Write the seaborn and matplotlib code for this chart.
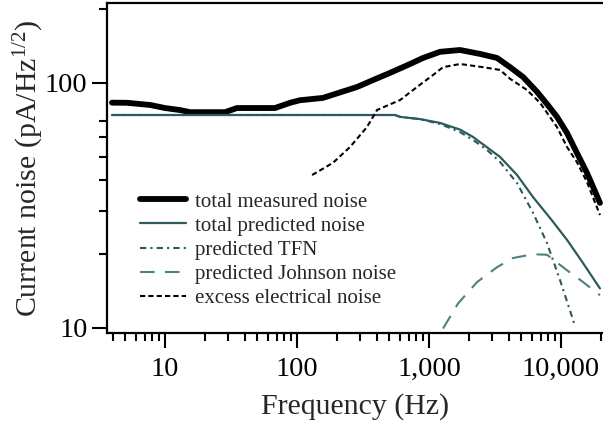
import matplotlib
matplotlib.use("Agg")
import matplotlib.pyplot as plt
import matplotlib.ticker as mticker
import seaborn as sns

# values (Hz, pA/Hz^1/2)
freq_meas = [3.96, 5.15, 7.7, 10, 13, 15.5, 28.5, 35, 68, 88.6, 105, 157, 285, 377, 507,
             681, 901, 1211, 1718, 2433, 3273, 4110, 5155, 6580, 7834, 9330, 11100,
             13200, 15740, 19730]
meas = [83.1, 83, 81.3, 79, 77.5, 76, 76, 79, 79, 83, 85, 86.9, 96.3, 102.8, 110,
        118, 126.5, 134, 136.3, 131.4, 126.5, 116, 105.8, 92, 82, 72.7, 62.5,
        51.8, 42.9, 32.4]

freq_pred = [3.96, 100, 552, 604, 855, 1211, 1718, 2154, 3451, 4645, 6140, 8260,
             11100, 14690, 19730]
pred = [74, 74, 74, 72.7, 71.2, 68.7, 64.5, 60.2, 49.9, 42.1, 34.2, 28.1,
        22.9, 18.4, 14.5]

freq_tfn = [3.96, 100, 552, 604, 855, 1211, 1718, 2154, 2748, 3451, 4645, 6140,
            7834, 9820, 12330, 12780]
tfn = [74, 74, 74, 72.7, 71.2, 68, 63, 58.5, 53.3, 47.6, 39, 29.5,
       22.2, 15.7, 10.8, 10.1]

freq_john = [1277, 1660, 2312, 3273, 4326, 6140, 7834, 11100, 14690, 19730]
john = [9.95, 12.6, 15.4, 17.7, 19.3, 20.0, 19.9, 17.2, 15.4, 13.6]

freq_exc = [130, 187, 252, 338, 404, 604, 811, 1073, 1277, 1718, 2566, 3451, 4110,
            5520, 6935, 9330, 11100, 13200, 15740, 19730]
exc = [42.1, 47.2, 54.8, 66, 77.6, 85.2, 96.3, 107.8, 116, 119.5, 116, 113, 104,
       93.6, 83, 66, 54.8, 47.5, 39.4, 28.9]

x_major = [10, 100, 1000, 10000]
y_major = [10, 100]
y_minor = [20, 30, 40, 50, 60, 70, 200]

sns.set_style("ticks")
plt.rcParams["font.family"] = ["Liberation Serif", "DejaVu Serif"]
plt.rcParams["mathtext.fontset"] = "custom"
plt.rcParams["mathtext.rm"] = "Liberation Serif"
plt.rcParams["mathtext.it"] = "Liberation Serif:italic"

teal = "#2e5a5c"
teal_light = "#4f8083"

fig = plt.figure(figsize=(6.03, 4.23), dpi=100)
ax = fig.add_axes([107 / 603, 1 - 333 / 423, 1 - 107 / 603, 330 / 423])

sns.lineplot(x=freq_meas, y=meas, ax=ax, color="black", lw=4.2,
             label="total measured noise", sort=False)
sns.lineplot(x=freq_pred, y=pred, ax=ax, color=teal, lw=1.6,
             label="total predicted noise", sort=False)
sns.lineplot(x=freq_tfn, y=tfn, ax=ax, color=teal, lw=1.5,
             linestyle=(0, (3, 2, 1, 2)), label="predicted TFN", sort=False)
sns.lineplot(x=freq_john, y=john, ax=ax, color=teal_light, lw=1.5,
             linestyle=(0, (7, 5)), label="predicted Johnson noise", sort=False)
sns.lineplot(x=freq_exc, y=exc, ax=ax, color="black", lw=1.5,
             linestyle=(0, (2.5, 1.5)), label="excess electrical noise", sort=False)

ax.set_xscale("log")
ax.set_yscale("log")
ax.set_xlim(3.63, 20800)
ax.set_ylim(9.54, 212)

ax.xaxis.set_major_locator(mticker.FixedLocator(x_major))
ax.xaxis.set_minor_locator(mticker.LogLocator(base=10, subs=range(2, 10)))
ax.xaxis.set_major_formatter(mticker.FuncFormatter(lambda v, p: f"{int(v):,}"))
ax.xaxis.set_minor_formatter(mticker.NullFormatter())
ax.yaxis.set_major_locator(mticker.FixedLocator(y_major))
ax.yaxis.set_minor_locator(mticker.FixedLocator(y_minor))
ax.yaxis.set_major_formatter(mticker.FuncFormatter(lambda v, p: f"{int(v)}"))
ax.yaxis.set_minor_formatter(mticker.NullFormatter())

ax.tick_params(which="major", direction="out", length=10.5, width=1.5,
               labelsize=20.5, color="black", labelcolor="black")
ax.tick_params(axis="x", which="major", pad=7)
ax.tick_params(axis="y", which="major", pad=3.5)
ax.tick_params(which="minor", direction="out", length=6, width=1.5, color="black")

for side in ["left", "bottom", "top"]:
    ax.spines[side].set_visible(True)
    ax.spines[side].set_linewidth(1.6)
    ax.spines[side].set_color("black")
ax.spines["right"].set_visible(False)

ax.set_xlabel("Frequency (Hz)", fontsize=21.5, labelpad=8)
ax.set_ylabel("Current noise (pA/Hz$^{\\mathrm{1/2}}$)", fontsize=21.5, labelpad=-1)

ax.legend(loc="lower left", bbox_to_anchor=(0.066, 0.075), frameon=False,
          fontsize=15, handlelength=2.2, handletextpad=0.45, labelspacing=0.22,
          borderpad=0, borderaxespad=0)

fig.savefig("out.png", dpi=100)
